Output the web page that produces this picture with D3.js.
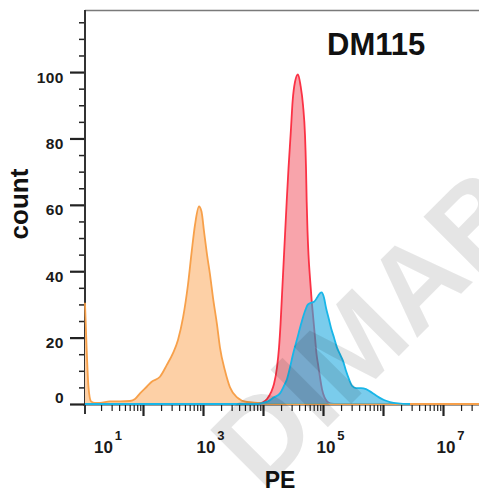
<!DOCTYPE html>
<html><head><meta charset="utf-8">
<script src="https://cdn.jsdelivr.net/npm/d3@7"></script>
<style>
html,body{margin:0;padding:0;background:#fff;}
svg{display:block;}
text{font-family:"Liberation Sans",Arial,sans-serif;}
</style></head>
<body>
<svg id="chart" width="479" height="497"></svg>
<script>
// ---- data (x = log10(PE), y = count) ----
const orangeLog   = [1.033,1.058,1.092,1.133,1.2,1.283,1.45,1.617,1.783,1.867,1.95,2.062,2.145,2.283,2.395,2.5,2.583,2.667,2.75,2.812,2.867,2.933,2.975,3.017,3.067,3.117,3.167,3.233,3.283,3.367,3.45,3.567,3.733,3.95,4.083,7.6];
const orangeCount = [30.5,18,5,0.8,0.3,0.3,0.8,0.8,0.9,1.5,3.2,5.2,6.7,8.2,11.7,15.3,19.3,26,36,46,54,59.5,58,52,45,39,32,24,17,10,5,2,0.6,0.3,0,0];

const redLog   = [3.917,4.0,4.067,4.133,4.183,4.233,4.267,4.292,4.317,4.342,4.367,4.395,4.425,4.462,4.495,4.533,4.583,4.625,4.667,4.7,4.717,4.728,4.742,4.758,4.783,4.812,4.842,4.867,4.892,4.917,4.95,4.983,5.025,5.067,5.117,5.183];
const redCount = [0,0.5,1.5,3.5,6,11,17,24,33,42,51,61,71,81.6,91.5,97,99.3,96,90,81,71,61,52,45,38,31,25,20,15,12,8,4.5,2,0.8,0.2,0];

const blueLog   = [1.033,3.917,3.983,4.083,4.183,4.283,4.35,4.4,4.45,4.5,4.567,4.633,4.7,4.75,4.8,4.85,4.9,4.933,4.975,5.017,5.05,5.092,5.133,5.183,5.233,5.283,5.333,5.383,5.433,5.483,5.55,5.633,5.717,5.783,5.85,5.933,6.017,6.117,6.25,6.45];
const blueCount = [0,0,0.3,0.8,2,3.2,5.5,7.5,11,15,19.5,24,28,30,30.5,30.8,32,33,33.6,32,29,26,23,20,17,15,13,10,7.5,5.5,4.8,4.8,4.5,3.8,3,2,1.2,0.6,0.2,0];

const yTickValues = [0,20,40,60,80,100];
const xLabelExponents = [1,3,5,7];
const title = "DM115";
const xTitle = "PE";
const yTitle = "count";
const watermark = "DIMABIO";

// ---- layout ----
const svg = d3.select("#chart");
const mLeft = 85, mTop = 10, mRight = 479, mBottom = 404;
const x = d3.scaleLog().domain([Math.pow(10,1.0333), Math.pow(10,7.6)]).range([mLeft, mRight]);
const y = d3.scaleLinear().domain([0, 118.7]).range([mBottom, mTop]);

// frame top
svg.append("line").attr("x1",mLeft).attr("x2",mRight).attr("y1",mTop+0.5).attr("y2",mTop+0.5)
  .attr("stroke","#7a7a7a").attr("stroke-width",1.5);

// x axis line
svg.append("line").attr("x1",83).attr("x2",mRight).attr("y1",mBottom+1).attr("y2",mBottom+1)
  .attr("stroke","#333").attr("stroke-width",1);

// x ticks (log decades + minors)
const xAxis = d3.axisBottom(x).tickValues(
    d3.range(1,9).flatMap(e => d3.range(1,10).map(m => m*Math.pow(10,e)))
      .filter(v => v >= x.domain()[0]*0.999 && v <= x.domain()[1])
  ).tickFormat("").tickSizeOuter(0);
const gx = svg.append("g").attr("transform",`translate(0,${mBottom+1})`).call(xAxis);
gx.select(".domain").remove();
gx.selectAll(".tick line").each(function(d){
  const lg = Math.log10(d);
  const major = Math.abs(lg - Math.round(lg)) < 1e-6;
  d3.select(this).attr("y2", major ? 11 : 6).attr("stroke","#222")
    .attr("stroke-width", major ? 2.2 : 1.2);
});

// x tick labels
xLabelExponents.forEach(e => {
  const cx = Math.max(x(Math.pow(10,e)) + 7.5, 108);
  const t = svg.append("text").attr("x",cx).attr("y",453).attr("text-anchor","middle")
    .attr("font-weight","bold").attr("font-size",17).attr("fill","#1a1a1a");
  t.append("tspan").text("10");
  t.append("tspan").attr("dx",2).attr("dy",-13).attr("font-size",13).text(String(e));
});

// y axis
const yAxis = d3.axisLeft(y).tickValues(d3.range(0,120,5)).tickFormat("").tickSizeOuter(0);
const gy = svg.append("g").attr("transform",`translate(${mLeft},0)`).call(yAxis);
gy.select(".domain").remove();
gy.selectAll(".tick line").each(function(d){
  const major = d % 20 === 0;
  d3.select(this).attr("x2", major ? -15 : -6).attr("stroke","#222").attr("stroke-width", major ? 2.2 : 1.5);
});
svg.append("line").attr("x1",mLeft).attr("x2",mLeft).attr("y1",mTop).attr("y2",414)
  .attr("stroke","#333").attr("stroke-width",2);

// y tick labels
svg.selectAll(".ylab").data(yTickValues).enter().append("text")
  .attr("class","ylab")
  .attr("x",64).attr("y", d => y(d) + (d === 0 ? -1.5 : 10.5))
  .attr("text-anchor","end").attr("font-weight","bold").attr("font-size",15.5)
  .attr("letter-spacing",0.5).attr("fill","#1a1a1a").text(d => d);

// ---- histograms ----
function series(logs, counts){ return logs.map((l,i)=>({v:Math.pow(10,l), c:counts[i]})); }
const area = d3.area().x(d=>x(d.v)).y0(y(0)).y1(d=>y(d.c)).curve(d3.curveMonotoneX);
const line = d3.line().x(d=>x(d.v)).y(d=>y(d.c)).curve(d3.curveMonotoneX);

const plot = svg.append("g");
function draw(data, fill, fillOpacity, stroke){
  const g = plot.append("g");
  g.append("path").datum(data).attr("d",area).attr("fill",fill).attr("fill-opacity",fillOpacity);
  g.append("path").datum(data).attr("d",line).attr("fill","none").attr("stroke",stroke)
    .attr("stroke-width",1.8).attr("stroke-linejoin","round");
}
draw(series(redLog, redCount), "#f8a4ab", 1, "#fb3245");
draw(series(orangeLog, orangeCount), "#fdd0a6", 1, "#f7a04a");
draw(series(blueLog, blueCount), "rgb(40,172,225)", 0.62, "#18b6e8");

// ---- titles ----
svg.append("text").attr("x",327).attr("y",55).attr("font-family","'Open Sans',sans-serif")
  .attr("font-weight","bold").attr("font-size",31).attr("fill","#111").text(title);
svg.append("text").attr("x",280).attr("y",488).attr("text-anchor","middle")
  .attr("font-weight","bold").attr("font-size",23).attr("fill","#111").text(xTitle);
svg.append("text").attr("transform","translate(28,204) rotate(-90)").attr("text-anchor","middle")
  .attr("font-weight","bold").attr("font-size",26).attr("fill","#111").text(yTitle);

// ---- watermark ----
svg.append("text").attr("transform","translate(262,493) rotate(-45)")
  .attr("font-family","'Liberation Serif',serif").attr("font-weight","bold")
  .attr("font-size",118).attr("fill","#000").attr("fill-opacity",0.1).text(watermark);
</script>
</body></html>
